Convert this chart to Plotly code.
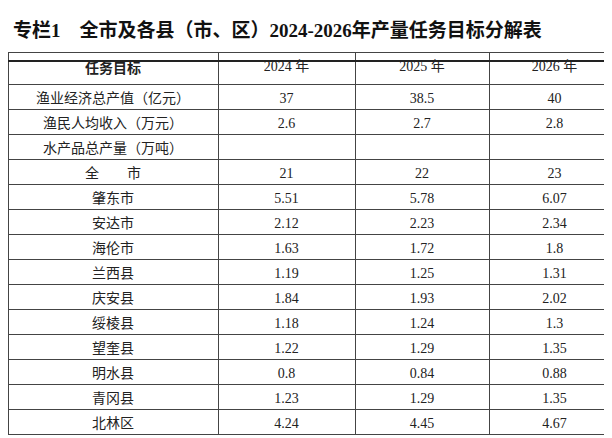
import plotly.graph_objects as go

title = "专栏1　全市及各县（市、区）2024-2026年产量任务目标分解表"
headers = ["<b>任务目标</b>", "2024 年", "2025 年", "2026 年"]
targets = ["渔业经济总产值（亿元）", "渔民人均收入（万元）", "水产品总产量（万吨）",
           "全　　市", "肇东市", "安达市", "海伦市", "兰西县", "庆安县",
           "绥棱县", "望奎县", "明水县", "青冈县", "北林区"]
v2024 = ["37", "2.6", "", "21", "5.51", "2.12", "1.63", "1.19", "1.84", "1.18", "1.22", "0.8", "1.23", "4.24"]
v2025 = ["38.5", "2.7", "", "22", "5.78", "2.23", "1.72", "1.25", "1.93", "1.24", "1.29", "0.84", "1.29", "4.45"]
v2026 = ["40", "2.8", "", "23", "6.07", "2.34", "1.8", "1.31", "2.02", "1.3", "1.35", "0.88", "1.35", "4.67"]

W, H = 612, 438
top = 53
fig = go.Figure(go.Table(
    domain=dict(x=[0, 1], y=[0, 1 - (top - 9) / H]),
    columnwidth=[210, 137, 134, 131],
    header=dict(values=headers, height=24, align="center",
                fill_color="white", line=dict(color="#444", width=1),
                font=dict(family="Liberation Serif, Noto Sans CJK SC", size=14, color="#222")),
    cells=dict(values=[targets, v2024, v2025, v2026], height=25, align="center",
               fill_color="white", line=dict(color="#444", width=1),
               font=dict(family="Liberation Serif, Noto Sans CJK SC", size=14, color="#222")),
))
fig.add_annotation(text="<b>" + title + "</b>", x=0.005, y=1 - 22 / H, xref="paper", yref="paper",
                   xanchor="left", yanchor="middle", showarrow=False,
                   font=dict(family="Liberation Serif, Noto Sans CJK SC", size=19, color="#111"))
fig.add_shape(type="line", xref="paper", yref="paper", x0=0, x1=1,
              y0=1 - top / H, y1=1 - top / H, line=dict(color="#222", width=2))
fig.update_layout(width=W, height=H, margin=dict(l=0, r=0, t=0, b=0),
                  paper_bgcolor="white", plot_bgcolor="white")
fig.write_html("out.html")
